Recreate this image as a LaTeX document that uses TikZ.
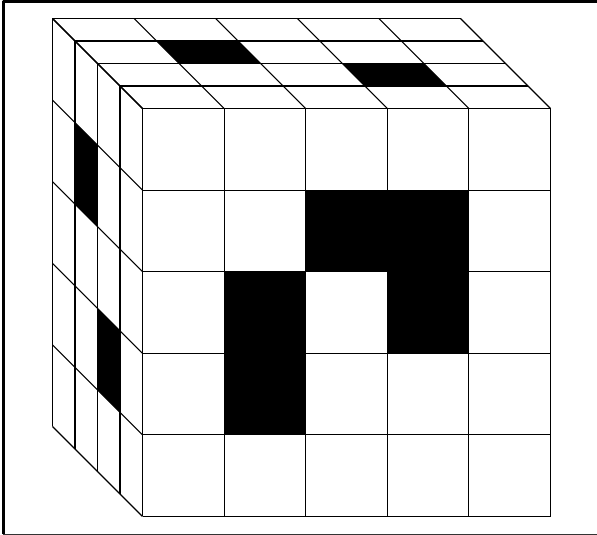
\documentclass[tikz,border=0pt]{standalone}

\begin{document}
\begin{tikzpicture}[
  x={(81.6pt,0pt)},
  y={(0pt,81.6pt)},
  z={(-22.5pt,22.5pt)},
  line join=round,
  gridline/.style={draw=black,line width=1.1pt},
  cellfill/.style={fill=black,draw=none},
  frameheavy/.style={draw=black,line width=3.4pt},
  framelight/.style={draw=black!80,line width=1.5pt}
]
  \useasboundingbox (-142.5pt,-18.5pt) rectangle (454.5pt,516.5pt);

  % Frame is open on the right, it runs off the page there.
  \coordinate (FrameTL) at (-139.1pt,515pt);
  \coordinate (FrameBL) at (-139.1pt,-18pt);
  \coordinate (FrameTR) at (456pt,515pt);
  \coordinate (FrameBR) at (456pt,-18pt);
  \draw[frameheavy] (FrameBL) -- (FrameTL) -- (FrameTR);
  \draw[framelight] (FrameBL) -- (FrameBR);

  % Black cells of the front face: column, row from the bottom.
  \foreach \c/\r in {2/3,3/3,3/2,1/2,1/1} {
    \path[cellfill] (\c,\r,0) -- (\c+1,\r,0) -- (\c+1,\r+1,0) -- (\c,\r+1,0) -- cycle;
  }
  % Black cells of the top face: column, depth.
  \foreach \c/\d in {1/2,3/1} {
    \path[cellfill] (\c,5,\d) -- (\c+1,5,\d) -- (\c+1,5,\d+1) -- (\c,5,\d+1) -- cycle;
  }
  % Black cells of the left face: row, depth.
  \foreach \r/\d in {3/2,1/1} {
    \path[cellfill] (0,\r,\d) -- (0,\r+1,\d) -- (0,\r+1,\d+1) -- (0,\r,\d+1) -- cycle;
  }

  % Front face.
  \foreach \i in {0,...,5} {
    \draw[gridline] (\i,0,0) -- (\i,5,0);
    \draw[gridline] (0,\i,0) -- (5,\i,0);
  }
  % Top face.
  \foreach \i in {0,...,5} {
    \draw[gridline] (\i,5,0) -- (\i,5,4);
  }
  \foreach \d in {1,...,4} {
    \draw[gridline] (0,5,\d) -- (5,5,\d);
  }
  % Left face.
  \foreach \i in {0,...,5} {
    \draw[gridline] (0,\i,0) -- (0,\i,4);
  }
  \foreach \d in {1,...,4} {
    \draw[gridline] (0,0,\d) -- (0,5,\d);
  }
\end{tikzpicture}
\end{document}
